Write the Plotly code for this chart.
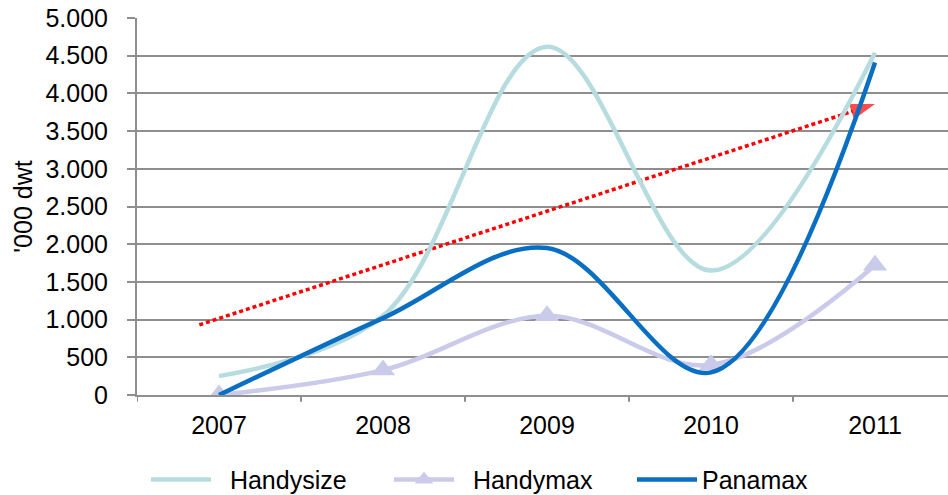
import plotly.graph_objects as go

# Newbuilding deliveries per year, '000 dwt
years = ["2007", "2008", "2009", "2010", "2011"]
handysize = [250, 1050, 4620, 1650, 4540]
handymax = [0, 330, 1050, 400, 1720]
panamax = [0, 1020, 1950, 300, 4410]

# Overall trend arrow (category position, value)
trend_x = [-0.12, 4.0]
trend_y = [930, 3860]

y_ticks = [0, 500, 1000, 1500, 2000, 2500, 3000, 3500, 4000, 4500, 5000]

FONT = "Liberation Sans, Arial, sans-serif"
GRID = "#8e8e8e"
FS = 25
PAD = "\u00a0\u00a0"  # extra room between legend swatch and label

fig = go.Figure()

fig.add_trace(go.Scatter(
    x=trend_x, y=trend_y, mode="lines+markers", showlegend=False,
    line=dict(color="#ff0000", width=3.5, dash="4px,3px"),
    marker=dict(symbol="arrow", angleref="previous", size=[0, 26],
                color="#ff0000", line=dict(width=0)),
    hoverinfo="skip",
))

fig.add_trace(go.Scatter(
    x=[0, 1, 2, 3, 4], y=handysize, name=PAD + "Handysize", mode="lines",
    line=dict(color="#b6dcdf", width=4.5, shape="spline", smoothing=1),
))
fig.add_trace(go.Scatter(
    x=[0, 1, 2, 3, 4], y=handymax, name=PAD + "Handymax", mode="lines+markers",
    line=dict(color="#cacaea", width=4.5, shape="spline", smoothing=1),
    marker=dict(symbol="triangle-up", size=21, color="#cacaea"),
))
fig.add_trace(go.Scatter(
    x=[0, 1, 2, 3, 4], y=panamax, name="Panamax", mode="lines",
    line=dict(color="#0a6fc2", width=4.5, shape="spline", smoothing=1),
))

fig.update_layout(
    width=948, height=495,
    margin=dict(l=137, r=0, t=18, b=100, autoexpand=False),
    paper_bgcolor="white", plot_bgcolor="white",
    font=dict(family=FONT, size=FS, color="#000000"),
    separators=",.",
    showlegend=True,
    legend=dict(orientation="h", x=0.0111, xanchor="left", y=-0.225,
                yanchor="middle", font=dict(size=FS), itemwidth=60,
                entrywidth=168, entrywidthmode="pixels",
                traceorder="normal", bgcolor="rgba(0,0,0,0)"),
)

fig.update_xaxes(
    type="linear", range=[-0.5, 4.445],
    tickvals=[0, 1, 2, 3, 4], ticktext=years,
    showgrid=False, zeroline=False,
    showline=True, linecolor=GRID, linewidth=2,
    ticks="", ticklabelstandoff=7,
    tickfont=dict(size=FS),
)
# boundary tick marks between categories
for b in [-0.5, 0.5, 1.5, 2.5, 3.5]:
    fig.add_shape(type="line", xref="x", yref="paper", x0=b, x1=b,
                  y0=0, y1=-0.018, line=dict(color=GRID, width=2))

fig.update_yaxes(
    range=[0, 5000], tickvals=y_ticks, tickformat=",d",
    showgrid=True, gridcolor=GRID, gridwidth=2,
    zeroline=False, showline=True, linecolor=GRID, linewidth=2,
    ticks="outside", ticklen=8, tickcolor=GRID, tickwidth=2,
    ticklabelstandoff=14, tickfont=dict(size=FS),
    title=dict(text="'000 dwt", font=dict(size=FS), standoff=6),
    automargin=False,
)

fig.write_html("out.html")
